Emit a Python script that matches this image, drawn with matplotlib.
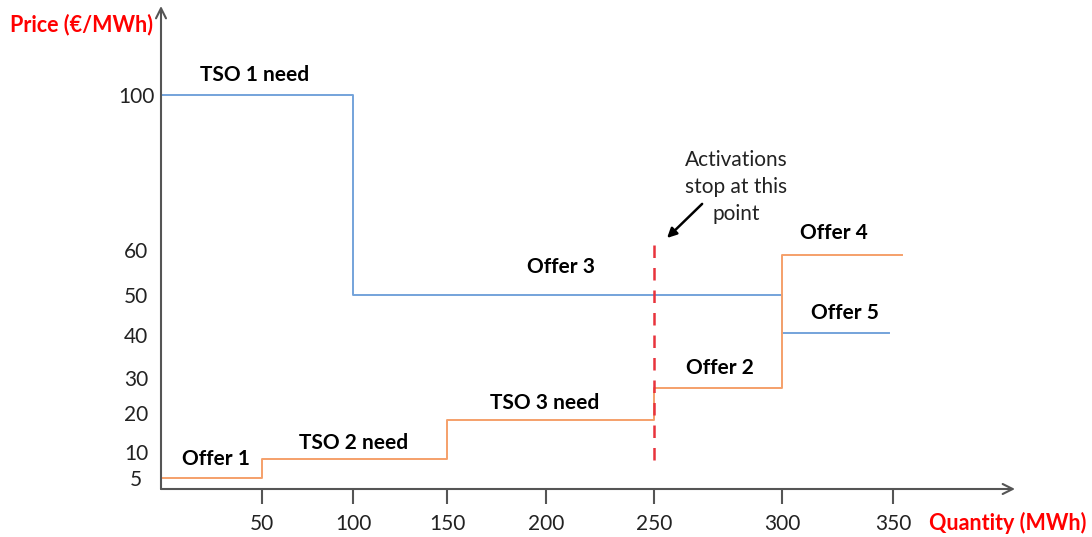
import numpy as np
import matplotlib.pyplot as plt

plt.rcParams['font.family'] = ['Lato', 'DejaVu Sans']

# quantity steps (MWh) and prices (EUR/MWh)
blue_q = [0, 100, 100, 300, 300, 348]
blue_p = [100, 100, 50, 50, 40.5, 40.5]
orange_q = [0, 50, 50, 150, 150, 250, 250, 300, 300, 354]
orange_p = [5, 5, 8.7, 8.7, 18.2, 18.2, 27.1, 27.1, 58.9, 58.9]
stop_q = 250

x_ticks = [50, 100, 150, 200, 250, 300, 350]
y_ticks = [5, 10, 20, 30, 40, 50, 60, 100]

labels = [
    ('TSO 1 need', 46.5, 105.2),
    ('Offer 3', 207, 56.2),
    ('TSO 3 need', 199.5, 22.9),
    ('TSO 2 need', 100.5, 12.3),
    ('Offer 1', 27, 8.7),
    ('Offer 2', 275.8, 32.3),
    ('Offer 4', 323.4, 64.4),
    ('Offer 5', 328.4, 45.5),
]

# schematic (non-uniform) axis spacing, piecewise linear
qk = np.array([0, 50, 100, 150, 200, 250, 300, 350, 400, 420])
qpos = np.array([161, 262, 353, 447, 546, 654, 782, 893, 1004, 1048])
pk = np.array([0, 5, 10, 20, 30, 40, 50, 60, 100, 130])
ppos = -np.array([489, 478, 452, 413, 378, 335, 295, 250, 95, -21])


def q_fwd(v):
    return np.interp(v, qk, qpos)


def q_inv(p):
    return np.interp(p, qpos, qk)


def p_fwd(v):
    return np.interp(v, pk, ppos)


def p_inv(p):
    return np.interp(p, ppos, pk)


W, H = 1092, 537
fig = plt.figure(figsize=(W / 100, H / 100), dpi=100)
ax = fig.add_axes([161 / W, (H - 489) / H, (1015 - 161) / W, (489 - 6) / H])
ax.set_xscale('function', functions=(q_fwd, q_inv))
ax.set_yscale('function', functions=(p_fwd, p_inv))
ax.set_xlim(0, float(q_inv(1015)))
ax.set_ylim(0, float(p_inv(-6)))

blue = '#74a3da'
orange = '#f5a06a'
ax.plot(blue_q, blue_p, color=blue, lw=1.4)
ax.plot(orange_q, orange_p, color=orange, lw=1.4)
ax.plot([stop_q, stop_q], [8.5, 62.6], color='#e8333c', lw=1.8,
        dashes=(5, 4))

for s in ax.spines.values():
    s.set_visible(False)
axc = '#555555'
ax.annotate('', xy=(1, 0), xytext=(0, 0), xycoords='axes fraction',
            arrowprops=dict(arrowstyle='->', color=axc, lw=1.5,
                            mutation_scale=18, shrinkA=0, shrinkB=0))
ax.annotate('', xy=(0, 1), xytext=(0, 0), xycoords='axes fraction',
            arrowprops=dict(arrowstyle='->', color=axc, lw=1.5,
                            mutation_scale=18, shrinkA=0, shrinkB=0))

ax.set_xticks(x_ticks)
ax.set_xticklabels([str(t) for t in x_ticks])
ax.set_yticks(y_ticks)
ax.set_yticklabels([str(t) for t in y_ticks])
ax.tick_params(axis='x', direction='out', length=11, width=1.5, color=axc,
               pad=7, labelsize=15, labelcolor='#222222')
ax.tick_params(axis='y', length=0, pad=18, labelsize=15, labelcolor='#222222')
for t in ax.get_yticklabels():
    t.set_horizontalalignment('center')
ax.minorticks_off()

for txt, x, y in labels:
    ax.text(x, y, txt, ha='center', va='center', fontsize=15,
            fontweight='bold', color='black')

ax.text(282, 76.3, 'Activations\nstop at this\npoint', ha='center',
        va='center', fontsize=15, color='#222222', linespacing=1.45)
ax.annotate('', xy=(255.1, 63.1), xytext=(268.8, 71.9),
            arrowprops=dict(arrowstyle='-|>', color='black', lw=1.8,
                            mutation_scale=14, shrinkA=0, shrinkB=0))

fig.text(81 / W, 1 - 25 / H, 'Price (€/MWh)', ha='center', va='center',
         fontsize=15.5, fontweight='bold', color='#ff0000')
fig.text(1008 / W, 1 - 523 / H, 'Quantity (MWh)', ha='center', va='center',
         fontsize=15.5, fontweight='bold', color='#ff0000')

fig.savefig('out.png', dpi=100)
